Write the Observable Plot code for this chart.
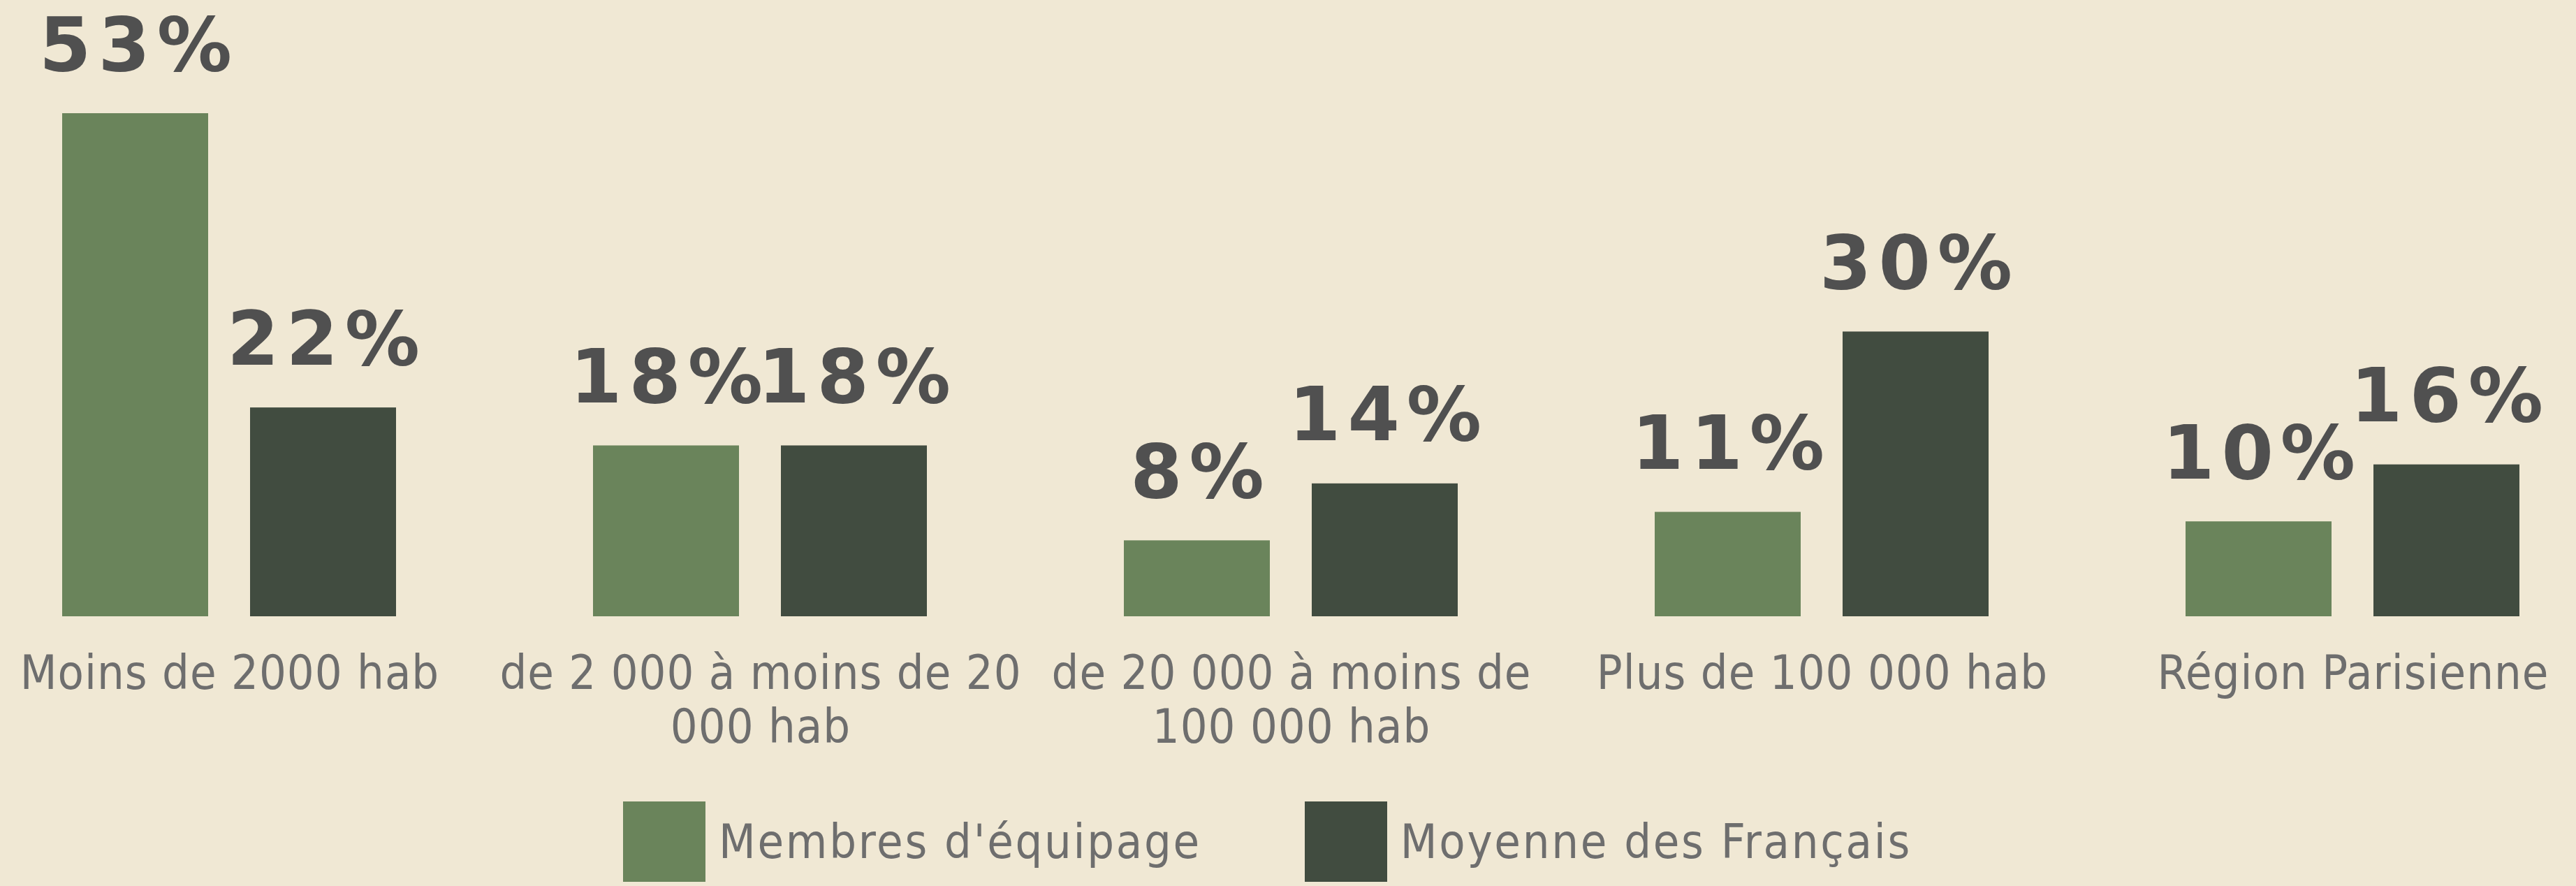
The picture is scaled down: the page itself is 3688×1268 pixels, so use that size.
<!DOCTYPE html>
<html>
<head>
<meta charset="utf-8">
<script src="https://cdn.jsdelivr.net/npm/d3@7"></script>
<script src="https://cdn.jsdelivr.net/npm/@observablehq/plot@0.6"></script>
<style>
  html, body { margin: 0; padding: 0; background: #F0E8D4; }
  #wrap { position: relative; width: 3688px; height: 1268px; overflow: hidden; }
  #legend { position: absolute; left: 892px; top: 1147px; display: flex; align-items: center; gap: 0; font-family: "DejaVu Sans Condensed", "DejaVu Sans", sans-serif; font-size: 68px; letter-spacing: 2.7px; color: #6E6E6E; }
  .item { display: flex; align-items: center; margin-right: 148px; }
  .sw { width: 118px; height: 115px; margin-right: 19px; }
</style>
</head>
<body>
<div id="wrap"></div>
<script>
const groups = ["Moins de 2000 hab", "de 2 000 à moins de 20 000 hab", "de 20 000 à moins de 100 000 hab", "Plus de 100 000 hab", "Région Parisienne"];
const tickLabels = ["Moins de 2000 hab", "de 2 000 à moins de 20\n000 hab", "de 20 000 à moins de\n100 000 hab", "Plus de 100 000 hab", "Région Parisienne"];
const series = ["Membres d'équipage", "Moyenne des Français"];
const colors = ["#6A845B", "#414C40"];
const membres = [53, 18, 8, 11, 10];
const moyenne = [22, 18, 14, 30, 16];

const data = [];
groups.forEach((g, i) => {
  data.push({group: g, series: series[0], value: membres[i]});
  data.push({group: g, series: series[1], value: moyenne[i]});
});
const labelRows = groups.map((g, i) => ({group: g, label: tickLabels[i]}));

const plot = Plot.plot({
  width: 3688,
  height: 1100,
  marginTop: 162,
  marginBottom: 218,
  marginLeft: 87,
  marginRight: 78,
  style: {background: "transparent", overflow: "visible"},
  fx: {domain: groups, paddingInner: 0.368, paddingOuter: 0, axis: null},
  x: {domain: series, paddingInner: 0.222, paddingOuter: 0, axis: null},
  y: {domain: [0, 53], axis: null},
  color: {domain: series, range: colors},
  marks: [
    Plot.barY(data, {fx: "group", x: "series", y: "value", fill: "series"}),
    Plot.text(data, {fx: "group", x: "series", y: "value", text: d => d.value + "%", dy: -62, dx: 5, lineAnchor: "bottom", fontSize: 107, fontWeight: "bold", fill: "#505050", fontFamily: "DejaVu Sans"}),
    Plot.text(labelRows, {fx: "group", text: "label", frameAnchor: "bottom", lineAnchor: "top", dy: 49, dx: 0.5, lineHeight: 1.13, fontSize: 68, fill: "#6E6E6E", fontFamily: "DejaVu Sans Condensed"})
  ]
});
plot.querySelectorAll("text").forEach(t => {
  const bold = t.closest("[font-weight='bold']") || t.getAttribute("font-weight") === "bold";
  t.style.letterSpacing = bold ? "10px" : "1px";
});
const wrap = document.getElementById("wrap");
wrap.appendChild(plot);

const legend = document.createElement("div");
legend.id = "legend";
series.forEach((s, i) => {
  const item = document.createElement("div");
  item.className = "item";
  const sw = document.createElement("div");
  sw.className = "sw";
  sw.style.background = colors[i];
  const lab = document.createElement("span");
  lab.textContent = s;
  item.appendChild(sw);
  item.appendChild(lab);
  legend.appendChild(item);
});
wrap.appendChild(legend);
</script>
</body>
</html>
